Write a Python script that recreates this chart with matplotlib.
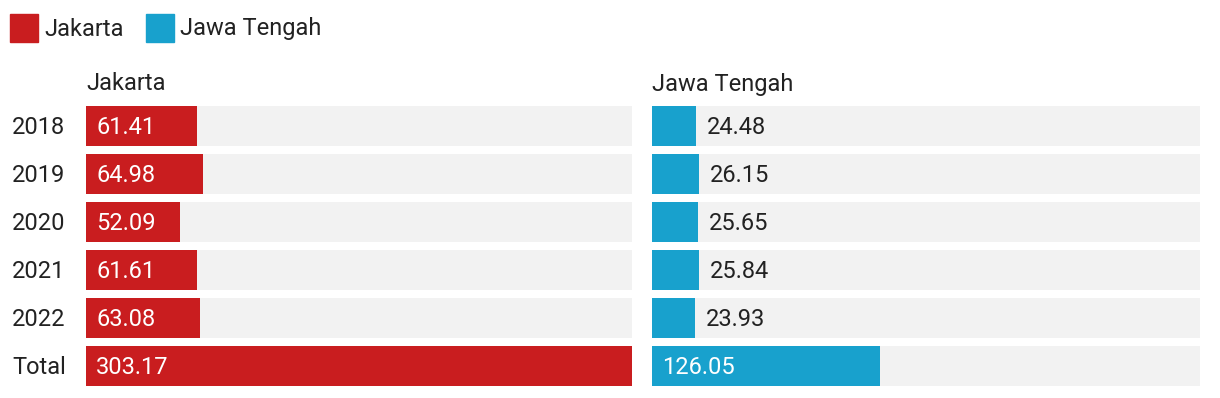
import matplotlib
matplotlib.use("Agg")
from matplotlib import pyplot as plt
from matplotlib.patches import Rectangle

plt.rcParams['font.family'] = ['Roboto', 'DejaVu Sans']

years = ['2018', '2019', '2020', '2021', '2022', 'Total']
jakarta = [61.41, 64.98, 52.09, 61.61, 63.08, 303.17]
jawa_tengah = [24.48, 26.15, 25.65, 25.84, 23.93, 126.05]
series = [('Jakarta', jakarta, '#c91d1f'), ('Jawa Tengah', jawa_tengah, '#18a1cd')]

W, H = 1220, 398
fig = plt.figure(figsize=(W / 100, H / 100), dpi=100)

xmax = max(jakarta + jawa_tengah)
panels = [(86, 632), (652, 1200)]
top_px, bot_px = 102, 390
fs = 17
txt = '#222222'
dy = 2  # small baseline nudge, in px

for i, ((name, vals, color), (x0, x1)) in enumerate(zip(series, panels)):
    ax = fig.add_axes([x0 / W, 1 - bot_px / H, (x1 - x0) / W, (bot_px - top_px) / H])
    ypos = list(range(len(years)))
    ax.barh(ypos, [xmax] * len(years), height=40 / 48, color='#f2f2f2')
    ax.barh(ypos, vals, height=40 / 48, color=color)
    ax.set_xlim(0, xmax)
    ax.set_ylim(len(years) - 0.5, -0.5)
    ax.axis('off')
    px = xmax / (x1 - x0)
    for y, v in zip(ypos, vals):
        yy = y + dy / 48
        if v / px > 70:
            ax.text(10 * px, yy, f'{v:.2f}', color='white', fontsize=fs, va='center', ha='left')
        else:
            ax.text(v + 11 * px, yy, f'{v:.2f}', color=txt, fontsize=fs, va='center', ha='left')
    fig.text(x0 / W, 1 - (82 + dy) / H, name, fontsize=fs, color=txt, va='center', ha='left')

for y, lab in enumerate(years):
    fig.text(12 / W, 1 - (126 + dy + 48 * y) / H, lab, fontsize=fs, color=txt, va='center', ha='left')

# legend
lx = 10
for name, _, color in series:
    fig.patches.append(Rectangle((lx / W, 1 - 42 / H), 28 / W, 28 / H,
                                 transform=fig.transFigure, color=color))
    fig.text((lx + 34) / W, 1 - (27 + dy) / H, name, fontsize=fs, color=txt, va='center', ha='left')
    lx = 146

fig.savefig('out.png', dpi=100)
